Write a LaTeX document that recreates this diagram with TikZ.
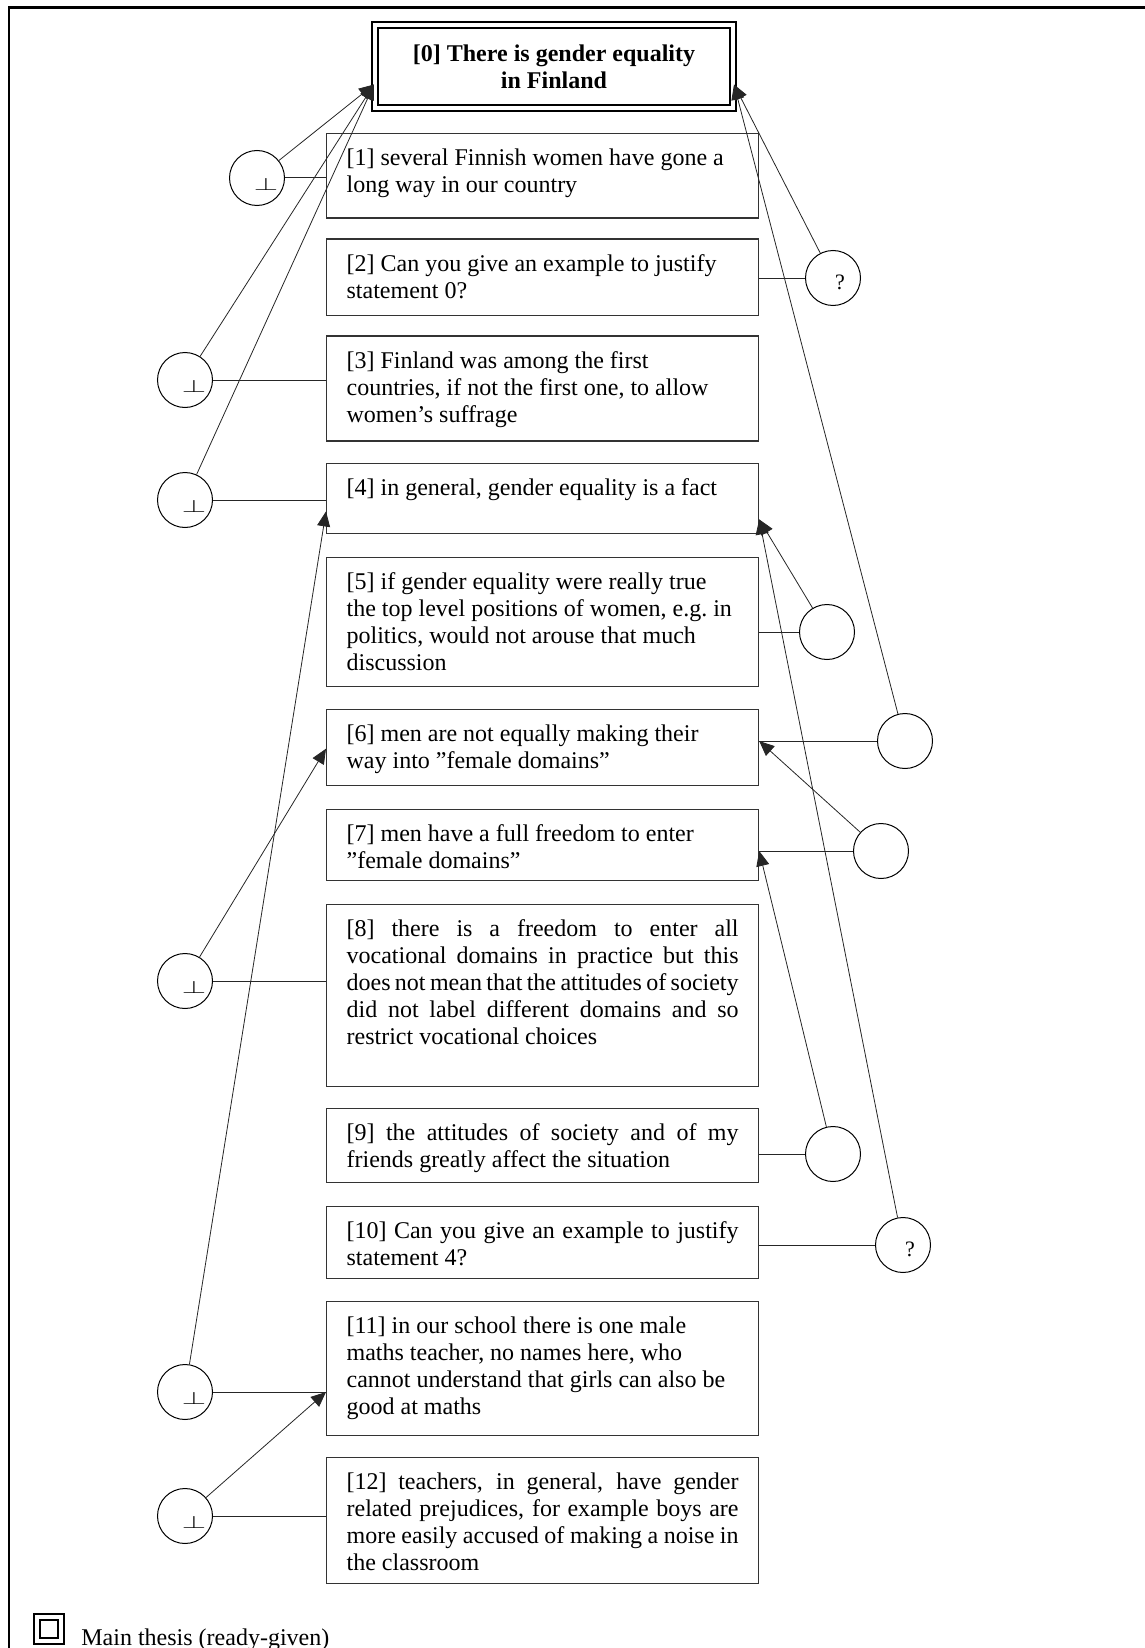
\documentclass[tikz,border=0pt]{standalone}
\usepackage{fontspec}
\setmainfont{Liberation Serif}
\usepackage{graphicx}
\usetikzlibrary{arrows.meta}
\tikzstyle{thesis} = [rectangle, draw=black, line width=1pt, double, double distance=2pt,
align=center, font=\fontsize{12}{13.3}\selectfont\bfseries]
\tikzstyle{claim} = [rectangle, draw=black!80, line width=0.6pt, anchor=north west,
text width=196pt, inner xsep=10pt, inner ysep=7pt, text height=9pt]
\tikzstyle{ragged} = [claim, align=flush left]
\tikzstyle{even} = [claim, align=justify]
\tikzstyle{joint} = [circle, draw=black, line width=0.5pt, minimum size=27.5pt, inner sep=0pt]
\tikzstyle{against} = [joint, label={[font=\fontsize{12}{12}\selectfont, xshift=4.5pt, yshift=-3.2pt]center:\scalebox{1.3}[0.75]{$\perp$}}]
\tikzstyle{query} = [joint, label={[font=\fontsize{11}{11}\selectfont, xshift=3.5pt, yshift=-2pt]center:?}]
\tikzstyle{tie} = [line width=0.5pt, draw=black!85]
\tikzstyle{arrow} = [line width=0.4pt, draw=black!85, -{Triangle[length=7.5pt,width=6.5pt]}]

\begin{document}
\begin{tikzpicture}[x=0.5pt, y=-0.5pt, font=\fontsize{12}{13.5}\selectfont]
\useasboundingbox (0,0) rectangle (1145,1648);
\draw[line width=1.3pt] (8,7.5) -- (1145,7.5);
\draw[line width=0.6pt] (9,7.5) -- (9,1648);

\node (0)[thesis, minimum width=179pt, minimum height=41.5pt] at (554,66.5) {[0] There is gender equality\\in Finland};
\node (1)[ragged, text depth=19.1pt] at (326,133.3) {[1] several Finnish women have gone a\\long way in our country};
\node (2)[ragged, text depth=15pt] at (326,238.5) {[2] Can you give an example to justify\\statement 0?};
\node (3)[ragged, text depth=29.5pt] at (326,335.4) {[3] Finland was among the first\\countries, if not the first one, to allow\\women’s suffrage};
\node (4)[ragged, text depth=12.2pt] at (326,462.6) {[4] in general, gender equality is a fact};
\node (5)[ragged, text depth=41.25pt] at (326,557) {[5] if gender equality were really true\\the top level positions of women, e.g.\ in\\politics, would not arouse that much\\discussion};
\node (6)[ragged, text depth=15pt] at (326,708.6) {[6] men are not equally making their\\way into ”female domains”};
\node (7)[ragged, text depth=12.75pt] at (326,808.5) {[7] men have a full freedom to enter\\”female domains”};
\node (8)[even, text depth=68pt] at (326,904) {[8] there is a freedom to enter all\linebreak vocational domains in practice but this\linebreak does not mean that the attitudes of society\linebreak did not label different domains and so\linebreak restrict vocational choices};
\node (9)[even, text depth=14.15pt] at (326,1107.5) {[9] the attitudes of society and of my\linebreak friends greatly affect the situation};
\node (10)[even, text depth=13pt] at (326,1206) {[10] Can you give an example to justify\linebreak statement 4?};
\node (11)[ragged, text depth=44.35pt] at (326,1300.5) {[11] in our school there is one male\\maths teacher, no names here, who\\cannot understand that girls can also be\\good at maths};
\node (12)[even, text depth=40.25pt] at (326,1456.5) {[12] teachers, in general, have gender\linebreak related prejudices, for example boys are\linebreak more easily accused of making a noise in\linebreak the classroom};

\node (l1)[against] at (257,178) {};
\node (r2)[query] at (833,278) {};
\node (l3)[against] at (185,380) {};
\node (l4)[against] at (185,500) {};
\node (r5)[joint] at (827,632) {};
\node (r6)[joint] at (905,741) {};
\node (r7)[joint] at (881,851) {};
\node (l8)[against] at (185,981) {};
\node (r9)[joint] at (833,1154) {};
\node (r10)[query] at (903,1245) {};
\node (l11)[against] at (185,1392) {};
\node (l12)[against] at (185,1516) {};

\node (key)[thesis, minimum size=12pt, inner sep=0pt] at (49,1629) {};
\node (keytext)[anchor=base west, inner sep=0pt] at (81,1645) {Main thesis (ready-given)};

\draw [tie](l1.east) -- (l1.east -| 1.west);
\draw [tie](r2.west) -- (r2.west -| 2.east);
\draw [tie](l3.east) -- (l3.east -| 3.west);
\draw [tie](l4.east) -- (l4.east -| 4.west);
\draw [tie](r5.west) -- (r5.west -| 5.east);
\draw [tie](r6.west) -- (r6.west -| 6.east);
\draw [tie](r7.west) -- (r7.west -| 7.east);
\draw [tie](l8.east) -- (l8.east -| 8.west);
\draw [tie](r9.west) -- (r9.west -| 9.east);
\draw [tie](r10.west) -- (r10.west -| 10.east);
\draw [tie](l11.east) -- (l11.east -| 11.west);
\draw [tie](l12.east) -- (l12.east -| 12.west);

\draw [arrow](l1) -- ([yshift=-9pt]0.west);
\draw [arrow](l3) -- ([yshift=-9pt]0.west);
\draw [arrow](l4) -- ([yshift=-9pt]0.west);
\draw [arrow](r2) -- ([yshift=-9pt]0.east);
\draw [arrow](r6) -- ([yshift=-9pt]0.east);
\draw [arrow](r5) -- ([yshift=-10.5pt]4.east);
\draw [arrow](r10) -- ([yshift=-10.5pt]4.east);
\draw [arrow](l11) -- ([yshift=-6.5pt]4.west);
\draw [arrow](l8) -- ([yshift=-0.75pt]6.west);
\draw [arrow](r7) -- (r6.west -| 6.east);
\draw [arrow](r9) -- (r7.west -| 7.east);
\draw [arrow](l12) -- (l11.east -| 11.west);
\end{tikzpicture}
\end{document}
